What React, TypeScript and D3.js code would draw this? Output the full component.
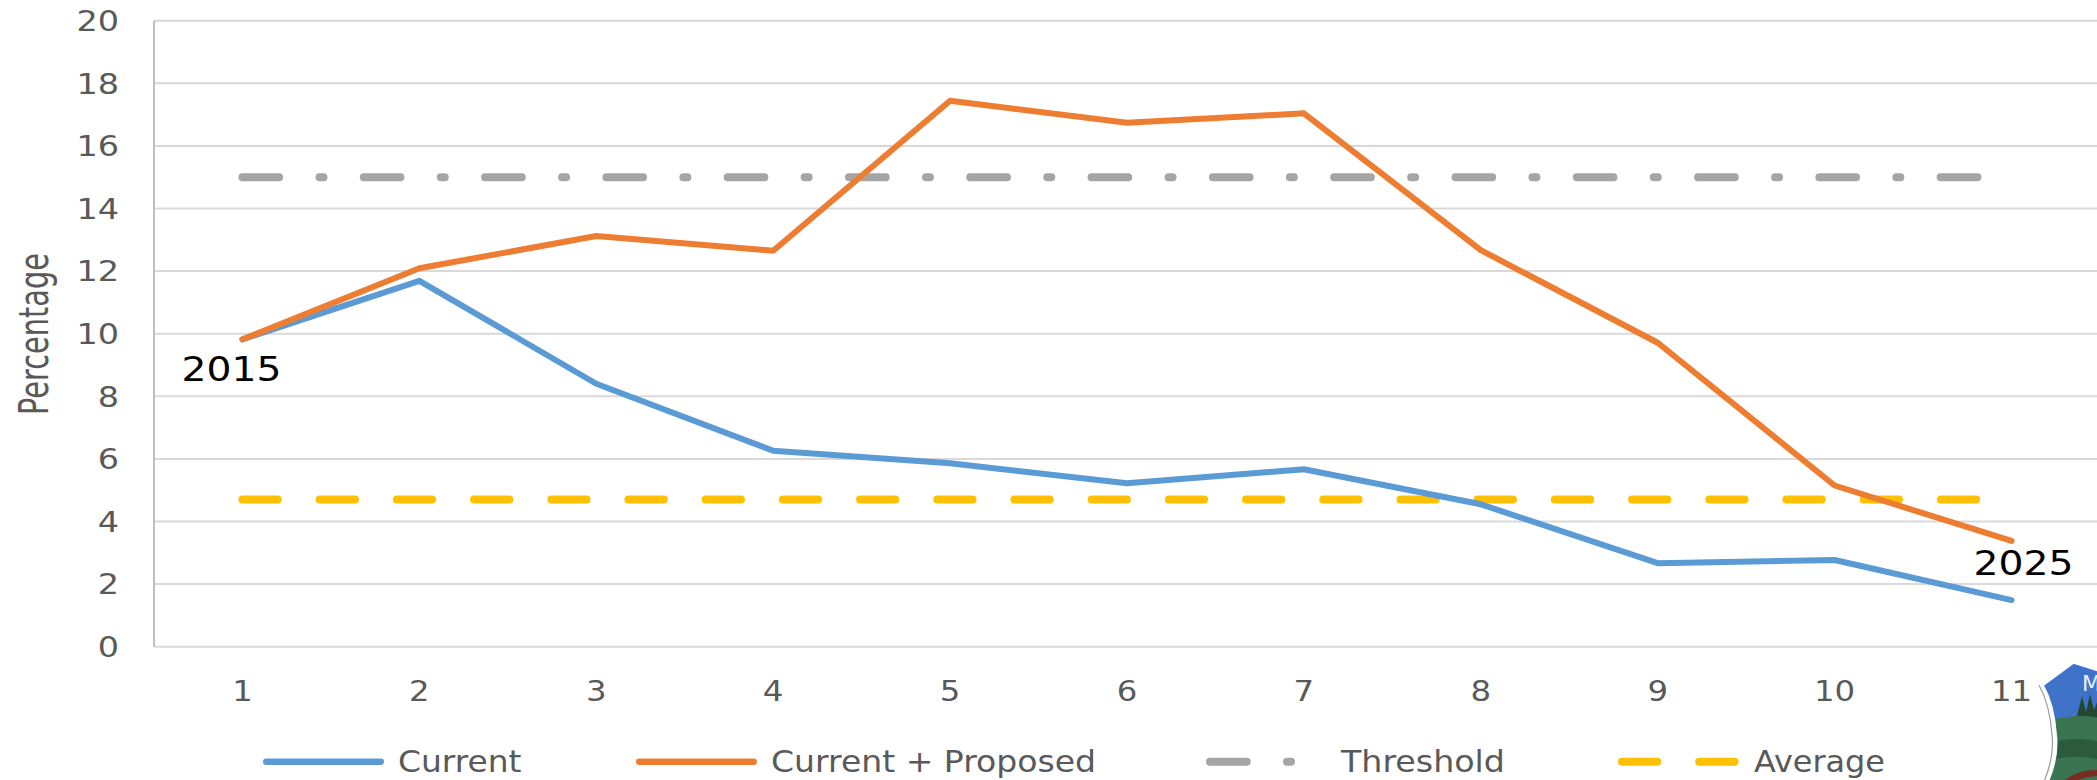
import React from "react";
import * as d3 from "d3";

// Series data (percent per period)
const periods = ["1", "2", "3", "4", "5", "6", "7", "8", "9", "10", "11"];
const currentValues = [9.82, 11.69, 8.4, 6.26, 5.86, 5.22, 5.67, 4.55, 2.67, 2.77, 1.49];
const proposedValues = [9.82, 12.09, 13.12, 12.65, 17.44, 16.74, 17.04, 12.67, 9.71, 5.15, 3.38];
const thresholdValue = 15;
const averageValue = 4.7;
const yTicks = [0, 2, 4, 6, 8, 10, 12, 14, 16, 18, 20];
const startLabel = "2015";
const endLabel = "2025";
const legendNames = ["Current", "Current + Proposed", "Threshold", "Average"];

const W = 2097;
const H = 780;
const plot = { left: 154, right: 2100, top: 20.7, bottom: 646.7 };

const COLORS = {
  current: "#5b9bd5",
  proposed: "#ed7d31",
  threshold: "#a5a5a5",
  average: "#ffc000",
  grid: "#d9d9d9",
  axis: "#bfbfbf",
  text: "#595959",
};

const THRESHOLD_DASH = "36.7 40.3 4 40.3";
const AVERAGE_DASH = "35.3 41.9";

const FONT = "'DejaVu Sans', 'Open Sans', sans-serif";

export default function App() {
  const x = d3.scalePoint<string>().domain(periods).range([plot.left, plot.right]).padding(0.5);
  const y = d3.scaleLinear().domain([0, 20]).range([plot.bottom, plot.top]);

  const line = d3
    .line<number>()
    .x((_, i) => x(periods[i]) as number)
    .y((d) => y(d));

  const x0 = x(periods[0]) as number;
  const xN = x(periods[periods.length - 1]) as number;

  // legend layout: symbol start, text start, text width
  const legendY = 761.7;
  const legendItems = [
    { name: legendNames[0], sx: 263, tx: 398, tw: 123.5, stroke: COLORS.current, w: 6.5, dash: undefined },
    { name: legendNames[1], sx: 636, tx: 771, tw: 325, stroke: COLORS.proposed, w: 6.5, dash: undefined },
    { name: legendNames[2], sx: 1206, tx: 1341, tw: 164, stroke: COLORS.threshold, w: 8, dash: THRESHOLD_DASH },
    { name: legendNames[3], sx: 1618, tx: 1754, tw: 131, stroke: COLORS.average, w: 8, dash: AVERAGE_DASH },
  ];
  const symbolLen = 121;

  return (
    <svg
      width={W}
      height={H}
      style={{ position: "absolute", left: 0, top: 0, background: "#fff" }}
      fontFamily={FONT}
    >
      <rect x={0} y={0} width={W} height={H} fill="#fff" />

      {/* horizontal gridlines */}
      {yTicks.map((t) => (
        <line key={t} x1={plot.left} x2={plot.right} y1={y(t)} y2={y(t)} stroke={COLORS.grid} strokeWidth={2} />
      ))}
      {/* value axis line */}
      <line x1={plot.left} x2={plot.left} y1={plot.top} y2={plot.bottom} stroke={COLORS.axis} strokeWidth={2} />

      {/* y tick labels */}
      {yTicks.map((t) => (
        <text
          key={t}
          x={119}
          y={y(t) + 10.2}
          textAnchor="end"
          fontSize={28}
          fill={COLORS.text}
          textLength={String(t).length * 21.3}
          lengthAdjust="spacingAndGlyphs"
        >
          {t}
        </text>
      ))}

      {/* x tick labels */}
      {periods.map((p) => (
        <text
          key={p}
          x={x(p) as number}
          y={700.7}
          textAnchor="middle"
          fontSize={28}
          fill={COLORS.text}
          textLength={p.length * 20.6}
          lengthAdjust="spacingAndGlyphs"
        >
          {p}
        </text>
      ))}

      {/* axis title */}
      <text
        transform={`translate(48, 334) rotate(-90)`}
        textAnchor="middle"
        fontSize={40}
        fill={COLORS.text}
        textLength={162}
        lengthAdjust="spacingAndGlyphs"
      >
        Percentage
      </text>

      {/* reference lines */}
      <line
        x1={x0}
        x2={xN}
        y1={y(thresholdValue)}
        y2={y(thresholdValue)}
        stroke={COLORS.threshold}
        strokeWidth={8}
        strokeLinecap="round"
        strokeDasharray={THRESHOLD_DASH}
      />
      <line
        x1={x0}
        x2={xN}
        y1={y(averageValue)}
        y2={y(averageValue)}
        stroke={COLORS.average}
        strokeWidth={8}
        strokeLinecap="round"
        strokeDasharray={AVERAGE_DASH}
      />

      {/* series */}
      <path
        d={line(currentValues) || ""}
        fill="none"
        stroke={COLORS.current}
        strokeWidth={6}
        strokeLinejoin="round"
        strokeLinecap="round"
      />
      <path
        d={line(proposedValues) || ""}
        fill="none"
        stroke={COLORS.proposed}
        strokeWidth={6}
        strokeLinejoin="round"
        strokeLinecap="round"
      />

      {/* period annotations */}
      <text
        x={x0 - 11}
        y={y(proposedValues[0]) + 42}
        textAnchor="middle"
        fontSize={34}
        fill="#000"
        textLength={100}
        lengthAdjust="spacingAndGlyphs"
      >
        {startLabel}
      </text>
      <text
        x={xN + 12}
        y={y(proposedValues[proposedValues.length - 1]) + 34}
        textAnchor="middle"
        fontSize={34}
        fill="#000"
        textLength={100}
        lengthAdjust="spacingAndGlyphs"
      >
        {endLabel}
      </text>

      {/* legend */}
      <g fontSize={30} fill={COLORS.text}>
        {legendItems.map((it) => (
          <g key={it.name}>
            <line
              x1={it.sx + it.w / 2}
              x2={it.sx + symbolLen - it.w / 2}
              y1={legendY}
              y2={legendY}
              stroke={it.stroke}
              strokeWidth={it.w}
              strokeLinecap="round"
              strokeDasharray={it.dash}
            />
            <text x={it.tx} y={771.7} textLength={it.tw} lengthAdjust="spacingAndGlyphs">
              {it.name}
            </text>
          </g>
        ))}
      </g>

      {/* crest emblem in the corner */}
      <defs>
        <clipPath id="crest">
          <path d="M2041.7 685 L2073.3 661.7 L2100 670 L2100 790 L2043 790 Q2058 760 2055 735 Q2053 705 2041.7 685 Z" />
        </clipPath>
      </defs>
      <g clipPath="url(#crest)">
        <rect x={2035} y={655} width={70} height={130} fill="#3f73c9" />
        <path d="M2076 720 L2082 696 L2086 712 L2090 694 L2094 710 L2098 700 L2100 720 Z" fill="#24472f" />
        <path d="M2040 724 Q2070 712 2100 718 L2100 790 L2040 790 Z" fill="#3b7450" />
        <path d="M2040 745 Q2075 735 2100 742 L2100 760 Q2070 752 2040 764 Z" fill="#2c5a3c" />
        <path d="M2052 790 Q2075 768 2100 770 L2100 776 Q2078 776 2060 790 Z" fill="#7a2c22" />
        <text x={2082} y={691} fontSize={22} fill="#e8f0ff" fontFamily={FONT}>
          M
        </text>
      </g>
      <path
        d="M2041.7 685 L2073.3 661.7 L2100 670 M2041.7 685 Q2053 705 2055 735 Q2058 760 2043 790"
        fill="none"
        stroke="#ffffff"
        strokeWidth={4}
      />
      <path
        d="M2039 685 Q2050 705 2052 735 Q2055 760 2040 790"
        fill="none"
        stroke="#9a9a9a"
        strokeWidth={1.2}
      />
    </svg>
  );
}
